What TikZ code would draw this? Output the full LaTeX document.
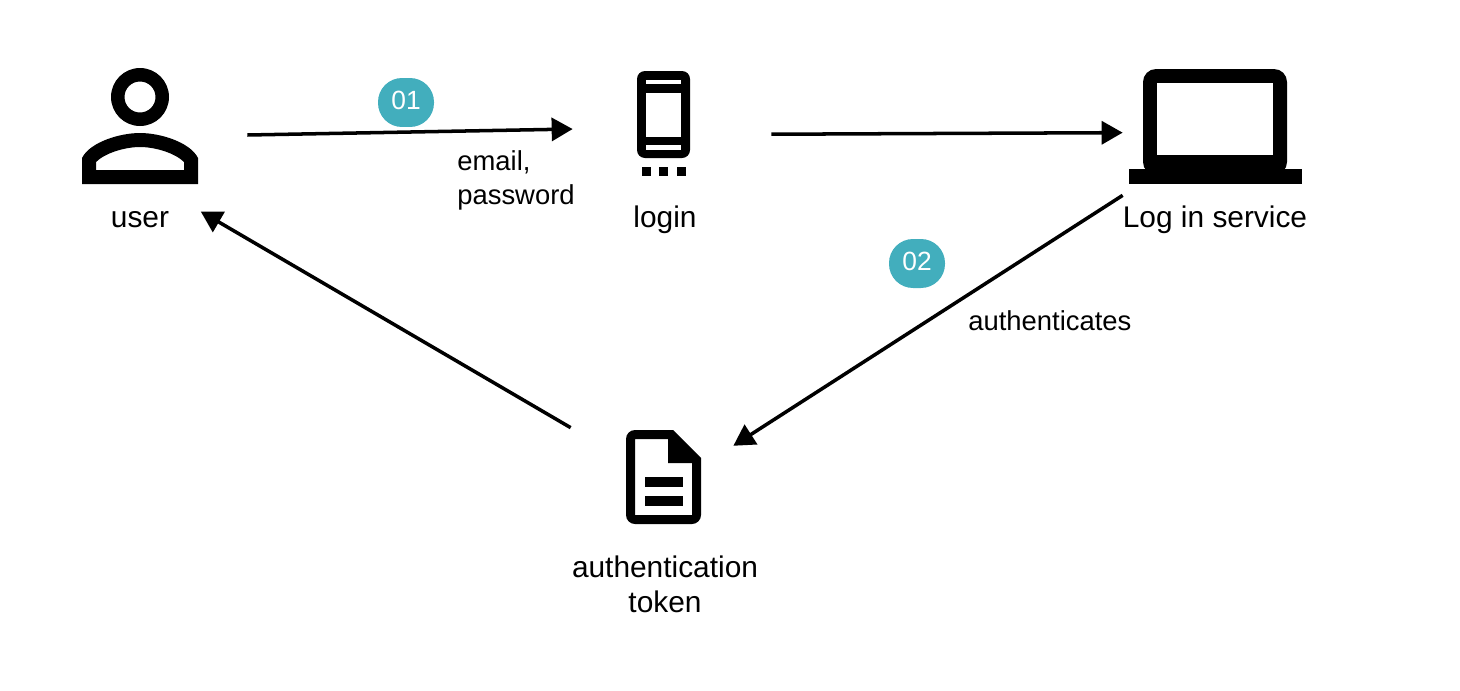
\documentclass[tikz,border=0pt]{standalone}
\usepackage{fontspec}
\setmainfont{Liberation Sans}
\usepackage{xcolor}
\usepackage{tikz}
\usetikzlibrary{arrows.meta,positioning,calc}

\definecolor{badgeteal}{HTML}{42AEBD}

\tikzset{
    flow/.style={line width=2pt,-{Triangle[length=0.42cm,width=0.46cm]}},
    spot/.style 2 args={inner sep=0pt,minimum width=#1*0.02cm,minimum height=#2*0.02cm},
    biglabel/.style={inner sep=0pt,align=center,font=\fontsize{17}{19.9}\selectfont},
    smalllabel/.style={inner sep=0pt,align=left,font=\fontsize{15.6}{19.3}\selectfont},
    badge/.style={fill=badgeteal,text=white,rounded corners=0.48cm,minimum width=1.12cm,minimum height=0.98cm,inner sep=0pt,text depth=2.8pt,font=\fontsize{15}{16}\selectfont}
}

\begin{document}
\begin{tikzpicture}[x=0.02cm,y=-0.02cm]
\useasboundingbox (0,0) rectangle (1460,690);

% User icon
\fill[even odd rule] (140,97) circle (29) (140,97) circle (15.5);
\fill[even odd rule] (82,184) -- (82,158) .. controls (90,142) and (120,133) .. (140,133) .. controls (160,133) and (190,142) .. (198,158) -- (198,184) -- cycle
    (96,170) -- (96,162) .. controls (105,153) and (125,147) .. (140,147) .. controls (155,147) and (175,153) .. (184,162) -- (184,170) -- cycle;

% Phone icon
\fill[even odd rule,rounded corners=0.16cm] (637,71) rectangle (690,158);
\fill[white] (646,80) rectangle (681,84);
\fill[white] (646,93) rectangle (681,137);
\fill[white] (646,145) rectangle (681,150);
\foreach \x in {642,659,677}
    \fill (\x,167) rectangle (\x+9,176);

% Laptop icon
\fill[rounded corners=0.26cm] (1143,69) rectangle (1287,175);
\fill[white] (1157,83) rectangle (1273,155);
\fill (1129,169) rectangle (1302,184);

% Document icon
\fill[even odd rule] (673,430) [rounded corners=0pt] -- (701,458) [rounded corners=0.18cm] -- (701,524) -- (626,524) -- (626,430) [rounded corners=0pt] -- cycle
    (635,439) -- (668,439) -- (668,463) -- (692,463) -- (692,515) -- (635,515) -- cycle;
\fill (645,477) rectangle (683,487);
\fill (645,496) rectangle (683,506);

% Anchor areas round the icons
\node[spot={214}{20}] (user) at (140,135) {};
\node[spot={198}{20}] (login) at (672,132.5) {};
\node[spot={185}{62}] (service) at (1215.5,164) {};
\node[spot={162}{98}] (token) at (652,477) {};

% Labels
\node[biglabel,minimum width=2.52cm] (userlabel) at (140,220) {user};
\node[biglabel] (loginlabel) at (665,220) {login};
\node[biglabel] (servicelabel) at (1215,220) {Log in service};
\node[biglabel] (tokenlabel) at (665,584) {authentication\\token};
\node[smalllabel,anchor=west] (credentials) at (457,180.5) {email,\\password};
\node[smalllabel,anchor=west] (authlabel) at (968,320.5) {authenticates};

% Step badges
\node[badge] (stepone) at (406,102.5) {01};
\node[badge] (steptwo) at (917,263.5) {02};

% Arrows
\draw[flow] (user.east) -- (login.178.55);
\draw[flow] (login.-1.45) -- (service.north west);
\draw[flow] (service.south west) -- (token.21.6);
\draw[flow] (token.north west) -- (userlabel.8);
\end{tikzpicture}
\end{document}
